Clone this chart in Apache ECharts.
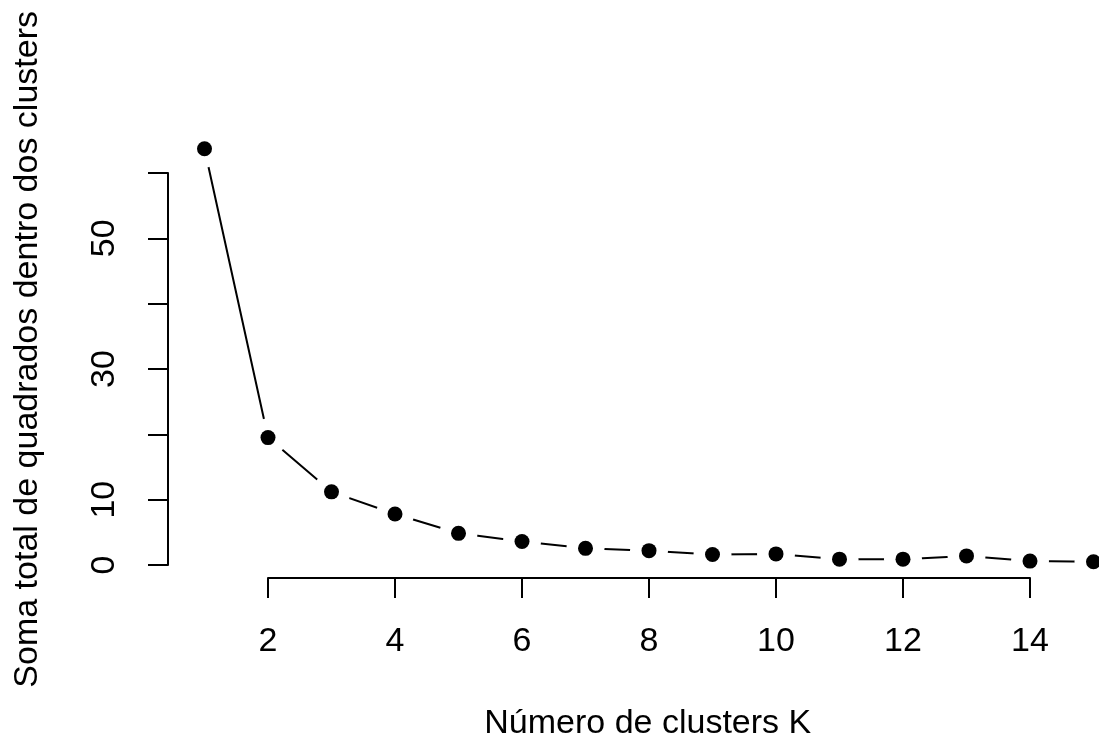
<!DOCTYPE html>
<html>
<head>
<meta charset="utf-8">
<script src="https://cdn.jsdelivr.net/npm/echarts@6/dist/echarts.min.js"></script>
<style>html,body{margin:0;padding:0;background:#fff;}#c{width:1099px;height:740px;}</style>
</head>
<body>
<div id="c"></div>
<script>
const kValues = [1, 2, 3, 4, 5, 6, 7, 8, 9, 10, 11, 12, 13, 14, 15];
const wssValues = [63.7, 19.5, 11.2, 7.8, 4.85, 3.6, 2.55, 2.2, 1.6, 1.7, 0.9, 0.9, 1.4, 0.6, 0.5];
const xTicks = [2, 4, 6, 8, 10, 12, 14];
const yTickLabels = [0, 10, 30, 50];
const xTitle = 'Número de clusters K';
const yTitle = 'Soma total de quadrados dentro dos clusters';

const FONT = 'Liberation Sans, Arial, sans-serif';
const FS = 34;
const pts = kValues.map((k, i) => [k, wssValues[i]]);

const chart = echarts.init(document.getElementById('c'), null, {renderer: 'canvas'});
chart.setOption({
  backgroundColor: '#ffffff',
  animation: false,
  grid: [
    {left: 196.88, top: 120.6, width: 901.7, height: 457.5, containLabel: false, outerBoundsMode: 'none'},
    {left: 268, top: 173, width: 762, height: 392, containLabel: false, outerBoundsMode: 'none'}
  ],
  xAxis: [
    {gridIndex: 0, type: 'value', min: 0.88, max: 15.08,
     axisLine: {show: false, onZero: false}, axisTick: {show: false}, axisLabel: {show: false}, splitLine: {show: false},
     name: xTitle, nameLocation: 'middle', nameGap: 129,
     nameTextStyle: {fontFamily: FONT, fontSize: FS, color: '#000'}},
    {gridIndex: 1, type: 'value', min: 2, max: 14, interval: 2, position: 'bottom', offset: 13, z: 10,
     axisLine: {show: true, onZero: false, lineStyle: {color: '#000', width: 2}},
     axisTick: {show: true, inside: false, length: 20, lineStyle: {color: '#000', width: 2}},
     axisLabel: {show: true, margin: 47, fontFamily: FONT, fontSize: FS, color: '#000',
       formatter: v => xTicks.includes(v) ? String(v) : ''},
     splitLine: {show: false}}
  ],
  yAxis: [
    {gridIndex: 0, type: 'value', min: -2, max: 68,
     axisLine: {show: false, onZero: false}, axisTick: {show: false}, axisLabel: {show: false}, splitLine: {show: false},
     name: yTitle, nameLocation: 'middle', nameGap: 152, nameRotate: 90,
     nameTextStyle: {fontFamily: FONT, fontSize: FS, color: '#000'}},
    {gridIndex: 1, type: 'value', min: 0, max: 60, interval: 10, position: 'left', offset: 100, z: 10,
     axisLine: {show: true, onZero: false, lineStyle: {color: '#000', width: 2}},
     axisTick: {show: true, inside: false, length: 20, lineStyle: {color: '#000', width: 2}},
     axisLabel: {show: true, rotate: 90, margin: 46, fontFamily: FONT, fontSize: FS, color: '#000',
       formatter: v => yTickLabels.includes(v) ? String(v) : ''},
     splitLine: {show: false}}
  ],
  series: [
    {type: 'line', xAxisIndex: 0, yAxisIndex: 0, data: pts, symbol: 'none', clip: false, z: 2,
     lineStyle: {color: '#000', width: 2}},
    {type: 'scatter', xAxisIndex: 0, yAxisIndex: 0, data: pts, symbol: 'circle', symbolSize: 38, clip: false, z: 3,
     silent: true, itemStyle: {color: '#fff', opacity: 1}},
    {type: 'scatter', xAxisIndex: 0, yAxisIndex: 0, data: pts, symbol: 'circle', symbolSize: 15, clip: false, z: 4,
     itemStyle: {color: '#000', opacity: 1}}
  ]
});
</script>
</body>
</html>
